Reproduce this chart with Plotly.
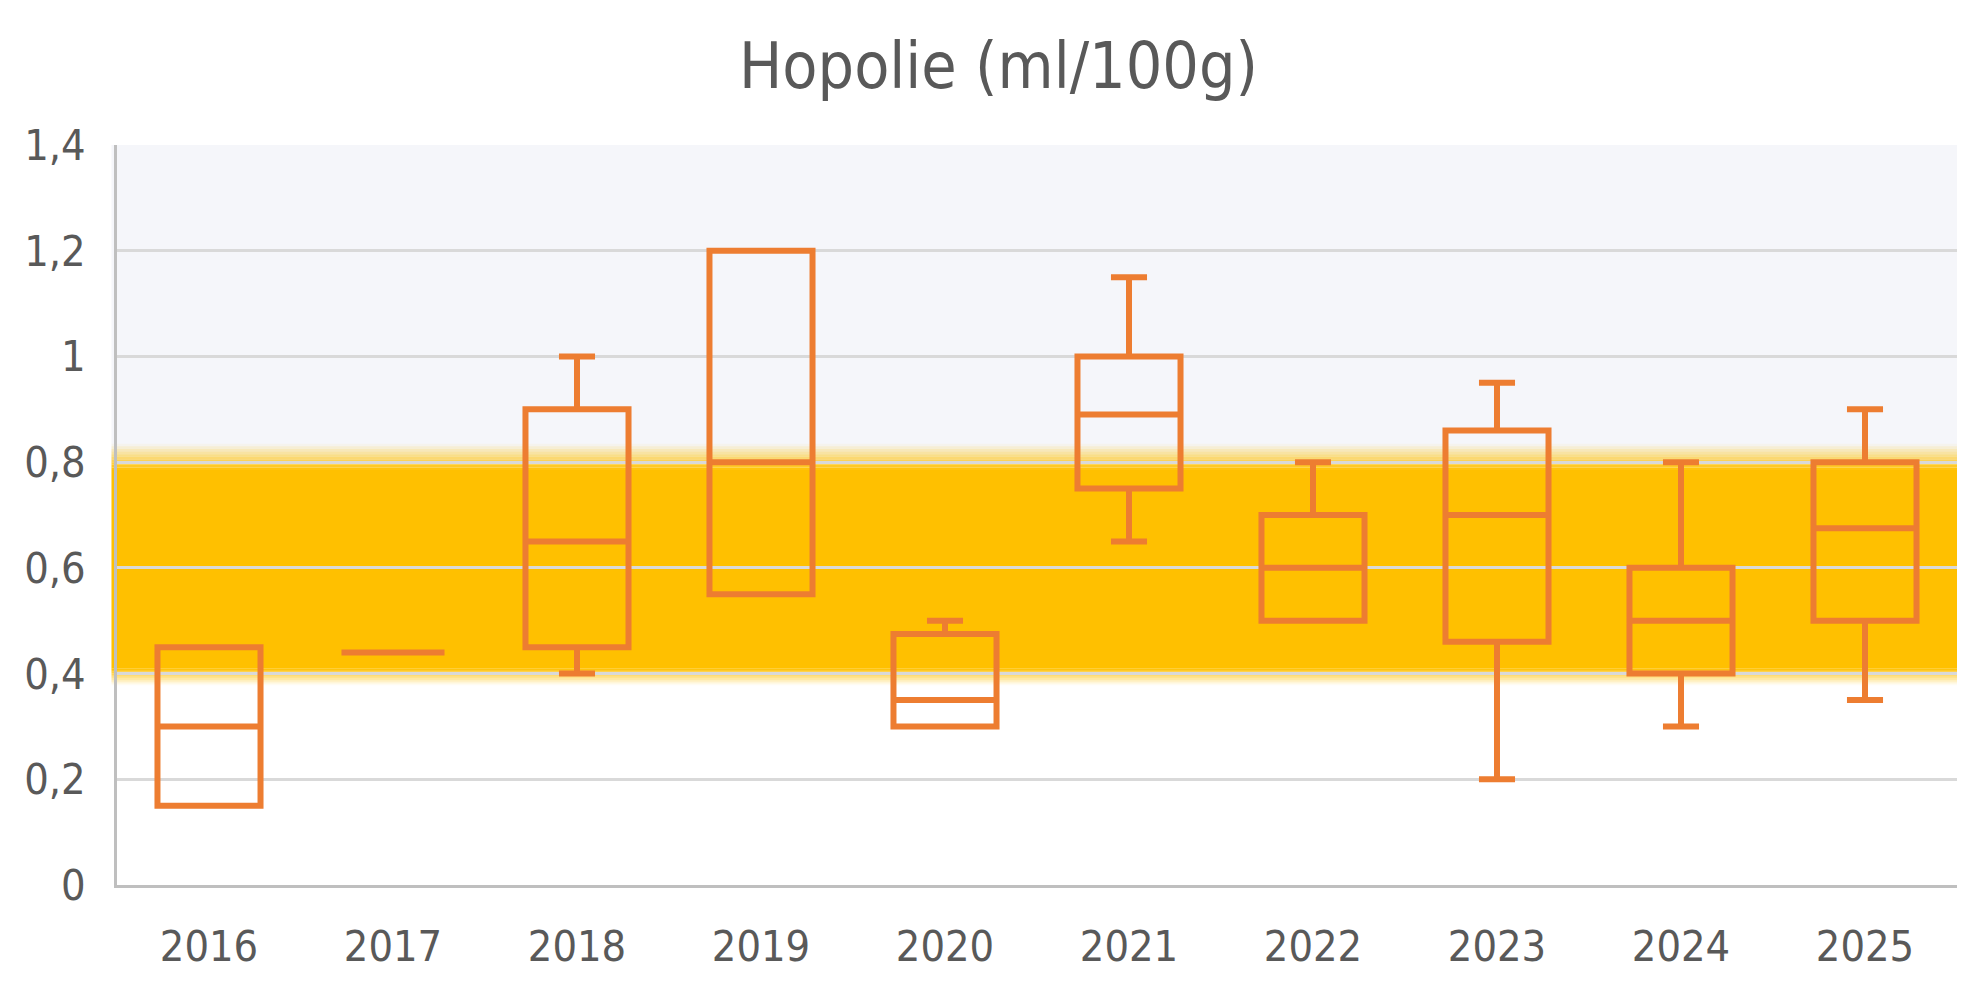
import plotly.graph_objects as go

years = ["2016", "2017", "2018", "2019", "2020", "2021", "2022", "2023", "2024", "2025"]
lower = [0.15, 0.44, 0.40, 0.55, 0.30, 0.65, 0.50, 0.20, 0.30, 0.35]
q1 = [0.15, 0.44, 0.45, 0.55, 0.30, 0.75, 0.50, 0.46, 0.40, 0.50]
median = [0.30, 0.44, 0.65, 0.80, 0.35, 0.89, 0.60, 0.70, 0.50, 0.675]
q3 = [0.45, 0.44, 0.90, 1.20, 0.475, 1.00, 0.70, 0.86, 0.60, 0.80]
upper = [0.45, 0.44, 1.00, 1.20, 0.50, 1.15, 0.80, 0.95, 0.80, 0.90]

# reference band (target range)
band_low, band_high = 0.40, 0.80

ORANGE = "#ED7D31"
GOLD = "#FFC000"
TEXT = "#595959"
FONT = "DejaVu Sans Condensed, DejaVu Sans, sans-serif"

fig = go.Figure(go.Box(x=years, q1=q1, median=median, q3=q3,
                       lowerfence=lower, upperfence=upper,
                       boxpoints=False, whiskerwidth=0.35,
                       fillcolor="rgba(0,0,0,0)",
                       line=dict(color=ORANGE, width=6),
                       showlegend=False, hoverinfo="skip"))

x_left = -0.003
shapes = [dict(type="rect", xref="paper", yref="y", x0=x_left, x1=1, y0=band_high, y1=1.41,
               fillcolor="#F5F6FA", line_width=0, layer="below"),
          dict(type="rect", xref="paper", yref="y", x0=x_left, x1=1,
               y0=band_low + 0.01, y1=band_high - 0.015,
               fillcolor=GOLD, line_width=0, layer="below")]

# soft edges of the band: thin strips with a linear opacity ramp
steps = 10
top0, top1 = band_high - 0.015, band_high + 0.035
bot0, bot1 = band_low + 0.01, band_low - 0.022
for i in range(steps):
    a = 1 - (i + 0.5) / steps
    shapes.append(dict(type="rect", xref="paper", yref="y", x0=x_left, x1=1,
                       y0=top0 + (top1 - top0) * i / steps, y1=top0 + (top1 - top0) * (i + 1) / steps,
                       fillcolor=GOLD, opacity=a, line_width=0, layer="below"))
    shapes.append(dict(type="rect", xref="paper", yref="y", x0=x_left, x1=1,
                       y0=bot0 + (bot1 - bot0) * i / steps, y1=bot0 + (bot1 - bot0) * (i + 1) / steps,
                       fillcolor=GOLD, opacity=a, line_width=0, layer="below"))

fig.update_layout(
    width=1981, height=995,
    margin=dict(l=109, r=32, t=137, b=118),
    paper_bgcolor="white", plot_bgcolor="white",
    separators=", ",
    font=dict(family=FONT, color=TEXT, size=43),
    title=dict(text="Hopolie (ml/100g)", x=0.5, xanchor="center", y=0.942, yanchor="middle",
               font=dict(family=FONT, size=64, color=TEXT)),
    boxgap=0.44, boxgroupgap=0,
    shapes=shapes,
    xaxis=dict(type="category", range=[-0.5, 9.5], showgrid=False,
               showline=True, linecolor="#BFBFBF", linewidth=2.5,
               ticks="", ticklabelstandoff=22, tickfont=dict(size=43, color=TEXT)),
    yaxis=dict(range=[0, 1.4], dtick=0.2, showgrid=True, gridcolor="#D9D9D9", gridwidth=2.5,
               zeroline=False, showline=True, linecolor="#BFBFBF", linewidth=2.5,
               ticks="", ticklabelstandoff=20, tickfont=dict(size=43, color=TEXT)),
)

fig.write_html("out.html")
